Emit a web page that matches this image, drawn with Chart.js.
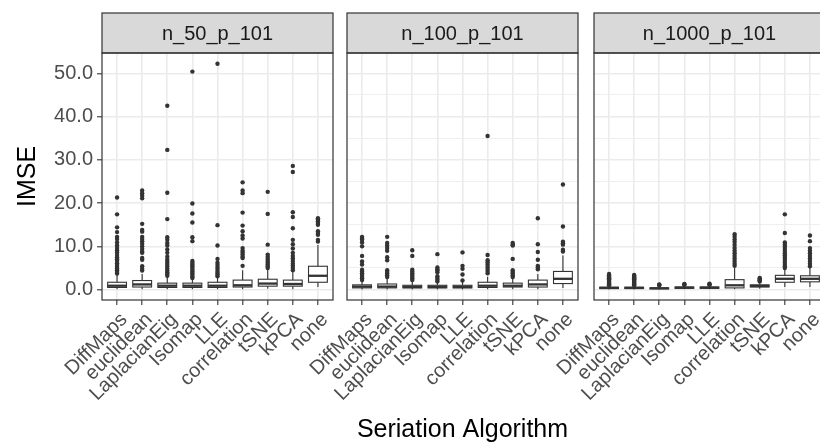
<!DOCTYPE html>
<html>
<head>
<meta charset="utf-8">
<script src="https://cdn.jsdelivr.net/npm/chart.js@4.4.1/dist/chart.umd.min.js"></script>
<style>
  html, body { margin: 0; padding: 0; background: #fff; overflow: hidden; }
  #wrap { position: relative; width: 820px; height: 445px; overflow: hidden; }
  canvas { position: absolute; top: 0; }
</style>
</head>
<body>
<div id="wrap">
  <canvas id="c1" width="340" height="445" style="left:0px"></canvas>
  <canvas id="c2" width="345" height="445" style="left:240px"></canvas>
  <canvas id="c3" width="345" height="445" style="left:487px"></canvas>
</div>
<script>
// categories and facets
const categories = ['DiffMaps', 'euclidean', 'LaplacianEig', 'Isomap', 'LLE', 'correlation', 'tSNE', 'kPCA', 'none'];
const panelLabels = ['n_50_p_101', 'n_100_p_101', 'n_1000_p_101'];
const yTicks = [0, 5, 10, 15, 20, 25, 30, 35, 40, 45, 50];

// n_50_p_101 : whisker low, q1, median, q3, whisker high, outliers
const lo50  = [0.1, 0.1, 0.1, 0.1, 0.1, 0.1, 0.2, 0.1, 0.6];
const q1_50 = [0.5, 0.6, 0.5, 0.5, 0.5, 0.6, 0.8, 0.8, 1.7];
const med50 = [0.9, 1.2, 0.9, 0.9, 0.9, 1.0, 1.4, 1.3, 3.2];
const q3_50 = [1.7, 2.1, 1.5, 1.5, 1.7, 2.2, 2.4, 2.2, 5.4];
const hi50  = [3.4, 3.6, 2.9, 2.6, 2.9, 4.5, 4.7, 4.2, 10.3];
const out50 = [
  [21.3, 17.4, 14.4, 13.3, 12.2, 11.7, 10.9, 10.2, 9.6, 9.1, 8.6, 8.0, 7.5, 7.0, 6.6, 6.1, 5.7, 5.3, 4.9, 4.5, 4.1, 3.7],
  [22.9, 22.3, 21.7, 21.1, 15.2, 13.8, 13.4, 12.2, 11.7, 11.2, 10.6, 10.0, 9.4, 8.8, 8.5, 7.3, 6.9, 5.4, 4.8, 4.4],
  [42.5, 32.3, 22.4, 16.3, 12.1, 11.5, 10.8, 10.2, 9.3, 8.5, 7.6, 6.9, 6.4, 5.9, 5.4, 4.9, 4.4, 4.0, 3.6, 3.2],
  [50.4, 19.9, 17.6, 15.5, 12.1, 11.2, 6.6, 6.2, 5.8, 5.4, 5.0, 4.6, 4.2, 3.8, 3.4, 3.0, 2.7],
  [52.2, 14.9, 10.2, 7.1, 6.2, 5.7, 5.2, 4.8, 4.3, 3.9, 3.5, 3.1],
  [24.8, 22.9, 22.3, 17.8, 14.8, 13.5, 12.5, 11.8, 9.6, 9.0, 8.6, 8.1, 7.6, 7.3, 5.5],
  [22.6, 17.5, 10.4, 8.1, 7.6, 7.1, 6.6, 6.2, 5.8, 5.4, 5.0],
  [28.6, 27.2, 17.9, 16.8, 14.2, 11.5, 10.5, 9.5, 8.5, 7.8, 7.2, 6.6, 6.0, 5.5, 5.0, 4.5],
  [16.5, 16.2, 15.8, 15.4, 15.0, 13.5, 13.1, 12.7, 11.5, 11.1]
];

// n_100_p_101
const lo100  = [0.05, 0.05, 0.05, 0.05, 0.05, 0.1, 0.1, 0.1, 0.4];
const q1_100 = [0.4, 0.4, 0.4, 0.4, 0.4, 0.5, 0.6, 0.6, 1.4];
const med100 = [0.7, 0.7, 0.6, 0.6, 0.6, 0.9, 0.9, 1.2, 2.5];
const q3_100 = [1.1, 1.3, 1.0, 1.0, 1.0, 1.7, 1.5, 2.2, 4.2];
const hi100  = [2.0, 2.6, 1.8, 1.8, 1.8, 3.0, 2.7, 3.6, 7.9];
const out100 = [
  [12.2, 11.8, 11.5, 10.9, 10.0, 7.8, 6.5, 5.8, 4.6, 4.2, 3.8, 3.4, 3.0, 2.6, 2.2],
  [12.2, 10.8, 10.2, 9.6, 9.0, 7.5, 6.8, 4.5, 4.1, 3.7, 3.3, 2.9],
  [9.1, 7.8, 4.6, 4.2, 3.8, 3.4, 3.0, 2.6, 2.2],
  [8.2, 5.1, 4.7, 4.4, 4.0, 3.1, 2.7, 2.3, 1.9],
  [8.6, 5.5, 4.8, 3.5, 2.1],
  [35.5, 8.0, 6.8, 6.3, 5.8, 5.3, 4.8, 4.3, 3.8],
  [10.8, 10.4, 10.2, 7.1, 4.5, 4.1, 3.7, 3.3, 2.9],
  [16.5, 10.5, 8.7, 6.9, 5.5, 5.1, 4.7],
  [24.3, 14.6, 11.1, 10.7, 10.4, 9.2, 8.8]
];

// n_1000_p_101
const lo1000  = [0.05, 0.05, 0.0, 0.1, 0.1, 0.1, 0.2, 0.6, 0.6];
const q1_1000 = [0.25, 0.25, 0.2, 0.3, 0.3, 0.4, 0.6, 1.7, 1.8];
const med1000 = [0.4, 0.4, 0.3, 0.45, 0.45, 1.0, 0.85, 2.5, 2.5];
const q3_1000 = [0.55, 0.55, 0.4, 0.6, 0.6, 2.3, 1.1, 3.3, 3.2];
const hi1000  = [0.9, 0.9, 0.6, 0.9, 0.9, 5.0, 1.8, 4.8, 5.0];
const out1000 = [
  [3.6, 3.3, 3.0, 2.8, 2.6, 2.4, 2.2, 2.0, 1.8, 1.6, 1.4, 1.2, 1.0],
  [3.4, 3.2, 3.0, 2.8, 2.6, 2.4, 2.2, 2.0, 1.8, 1.6, 1.4, 1.2, 1.0],
  [1.2, 1.1, 1.0],
  [1.3, 1.2, 1.1],
  [1.35, 1.2, 1.1],
  [12.8, 12.2, 11.6, 11.0, 10.3, 9.6, 9.0, 8.4, 7.8, 7.2, 6.6, 6.0, 5.5],
  [2.7, 2.5, 2.3, 2.1, 1.9],
  [17.4, 13.1, 10.9, 10.4, 9.9, 9.4, 8.9, 8.4, 7.9, 7.4, 6.9, 6.4, 5.9, 5.4, 5.0],
  [12.5, 11.2, 9.6, 9.0, 8.4, 7.8, 7.2, 6.6, 6.0, 5.4]
];

const panels = [
  {lo: lo50, q1: q1_50, med: med50, q3: q3_50, hi: hi50, out: out50},
  {lo: lo100, q1: q1_100, med: med100, q3: q3_100, hi: hi100, out: out100},
  {lo: lo1000, q1: q1_1000, med: med1000, q3: q3_1000, hi: hi1000, out: out1000}
];

const FONT = "'Liberation Sans', Arial, sans-serif";
const DARK = '#333333';

// boxes, whiskers and medians, drawn through the chart scales
const boxPlugin = {
  id: 'boxes',
  beforeDatasetsDraw(chart, args, opts) {
    const p = panels[opts.panel];
    const xs = chart.scales.x, ys = chart.scales.y, ctx = chart.ctx;
    const half = xs.getPixelForValue(1.375) - xs.getPixelForValue(1);
    ctx.save();
    ctx.strokeStyle = DARK;
    categories.forEach((c, i) => {
      const x = xs.getPixelForValue(i + 1);
      const yLo = ys.getPixelForValue(p.lo[i]), yQ1 = ys.getPixelForValue(p.q1[i]);
      const yMed = ys.getPixelForValue(p.med[i]), yQ3 = ys.getPixelForValue(p.q3[i]);
      const yHi = ys.getPixelForValue(p.hi[i]);
      ctx.lineWidth = 1.1;
      ctx.beginPath();
      ctx.moveTo(x, yLo); ctx.lineTo(x, yQ1);
      ctx.moveTo(x, yQ3); ctx.lineTo(x, yHi);
      ctx.stroke();
      ctx.fillStyle = '#fff';
      ctx.fillRect(x - half, yQ3, half * 2, yQ1 - yQ3);
      ctx.strokeRect(x - half, yQ3, half * 2, yQ1 - yQ3);
      ctx.lineWidth = 2.3;
      ctx.beginPath();
      ctx.moveTo(x - half, yMed); ctx.lineTo(x + half, yMed);
      ctx.stroke();
    });
    ctx.restore();
  }
};

// facet strip and panel border
const framePlugin = {
  id: 'frame',
  afterDraw(chart, args, opts) {
    const {ctx, chartArea: a} = chart;
    ctx.save();
    ctx.fillStyle = '#D9D9D9';
    ctx.strokeStyle = DARK;
    ctx.lineWidth = 1.2;
    ctx.fillRect(a.left, 13, a.right - a.left, a.top - 13);
    ctx.strokeRect(a.left, 13, a.right - a.left, a.top - 13);
    ctx.strokeRect(a.left, a.top, a.right - a.left, a.bottom - a.top);
    ctx.fillStyle = '#1A1A1A';
    ctx.font = '20px ' + FONT;
    ctx.textAlign = 'center';
    ctx.textBaseline = 'middle';
    ctx.fillText(opts.label, (a.left + a.right) / 2, (13 + a.top) / 2 + 1);
    ctx.restore();
  }
};

function makePanel(id, idx) {
  const p = panels[idx];
  const first = idx === 0, middle = idx === 1;
  const points = [];
  p.out.forEach((vals, i) => vals.forEach(v => points.push({x: i + 1, y: v})));

  new Chart(document.getElementById(id), {
    type: 'scatter',
    data: {
      datasets: [{
        data: points,
        pointRadius: 2.2,
        pointBorderWidth: 0,
        pointBackgroundColor: DARK
      }]
    },
    options: {
      responsive: false,
      animation: false,
      devicePixelRatio: 1,
      layout: {padding: {top: 53, right: 7, left: 0, bottom: 0}},
      plugins: {
        legend: {display: false},
        tooltip: {enabled: false},
        boxes: {panel: idx},
        frame: {label: panelLabels[idx]}
      },
      scales: {
        x: {
          type: 'linear',
          min: 0.4,
          max: 9.6,
          afterBuildTicks: s => { s.ticks = categories.map((c, i) => ({value: i + 1})); },
          afterFit: s => { s.height = 145; },
          border: {display: false},
          grid: {color: '#EBEBEB', lineWidth: 1.6, tickColor: DARK, tickLength: 5, tickWidth: 1.1},
          ticks: {
            autoSkip: false,
            minRotation: 45,
            maxRotation: 45,
            labelOffset: 7,
            padding: 3,
            color: '#4D4D4D',
            font: {size: 20, family: FONT},
            callback: v => categories[v - 1]
          },
          title: {
            display: middle,
            text: 'Seriation Algorithm',
            color: '#000',
            font: {size: 25, family: FONT},
            padding: {top: 0, bottom: 0}
          }
        },
        y: {
          type: 'linear',
          min: -2.4,
          max: 54.7,
          afterBuildTicks: s => { s.ticks = yTicks.map(v => ({value: v})); },
          afterFit: s => { s.width = first ? 102 : 107; },
          border: {display: false},
          grid: {
            color: '#EBEBEB',
            lineWidth: c => (c.tick && c.tick.value % 10 === 0) ? 1.6 : 0.8,
            drawTicks: first,
            tickLength: 5,
            tickWidth: 1.1,
            tickColor: c => (c.tick && c.tick.value % 10 === 0) ? DARK : 'rgba(0,0,0,0)'
          },
          ticks: {
            display: first,
            padding: 4,
            color: '#4D4D4D',
            font: {size: 20, family: FONT},
            callback: v => (v % 10 === 0 ? v.toFixed(1) : '')
          },
          title: {
            display: first,
            text: 'IMSE',
            color: '#000',
            font: {size: 25, family: FONT},
            padding: {top: 13, bottom: 0}
          }
        }
      }
    },
    plugins: [boxPlugin, framePlugin]
  });
}

makePanel('c1', 0);
makePanel('c2', 1);
makePanel('c3', 2);
</script>
</body>
</html>
